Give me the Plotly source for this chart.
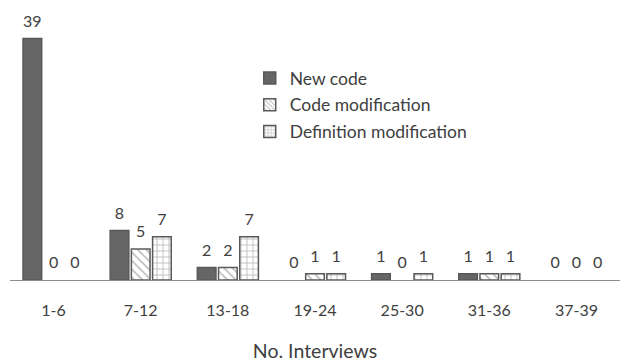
import plotly.graph_objects as go

categories = ["1-6", "7-12", "13-18", "19-24", "25-30", "31-36", "37-39"]
new_code = [39, 8, 2, 0, 1, 1, 0]
code_mod = [0, 5, 2, 1, 0, 1, 0]
def_mod = [0, 7, 7, 1, 1, 1, 0]

series = [
    ("New code", new_code, "", "#666666"),
    ("Code modification", code_mod, "\\", "white"),
    ("Definition modification", def_mod, "+", "white"),
]

FONT = "Lato, Carlito, Open Sans, sans-serif"
TXT = "#404040"
EDGE = "#595959"

fig = go.Figure()
for i, (name, vals, shape, col) in enumerate(series):
    grp = str(i)
    marker = dict(color=col,
                  line=dict(color=EDGE, width=[1.5 if v > 0 else 0 for v in vals]))
    if shape:
        marker["pattern"] = dict(shape=shape, fgcolor="#6a6a6a", bgcolor="white",
                                 size=6, solidity=0.25)
    # real bars
    fig.add_trace(go.Bar(
        name=name, x=categories, y=vals, marker=marker,
        offsetgroup=grp, alignmentgroup="a", showlegend=False,
    ))
    # value labels
    fig.add_trace(go.Scatter(
        x=categories, y=vals, mode="markers+text",
        text=[str(v) for v in vals], textposition="top center",
        textfont=dict(family=FONT, size=16, color=TXT),
        marker=dict(size=11, opacity=0),
        offsetgroup=grp, alignmentgroup="a",
        showlegend=False, hoverinfo="skip", cliponaxis=False,
    ))

# legend entries
for i, (name, vals, shape, col) in enumerate(series):
    marker = dict(color=col, line=dict(color=EDGE, width=1.5))
    if shape:
        marker["pattern"] = dict(shape=shape, fgcolor="#6a6a6a", bgcolor="white",
                                 size=4, solidity=0.3)
    fig.add_trace(go.Bar(name=name, x=[None], y=[None], marker=marker,
                         offsetgroup=str(i), alignmentgroup="a",
                         legendgroup=f"g{i}", showlegend=True))

fig.update_layout(
    width=620, height=354,
    margin=dict(l=2, r=8, t=12, b=82),
    paper_bgcolor="white", plot_bgcolor="white",
    barmode="group", bargap=0.27, bargroupgap=0.12,
    scattermode="group", scattergap=0.27,
    font=dict(family=FONT, size=16, color=TXT),
    showlegend=True,
    legend=dict(x=0.393, y=0.846, xanchor="left", yanchor="top",
                font=dict(family=FONT, size=17.5, color=TXT),
                bgcolor="rgba(0,0,0,0)", traceorder="grouped", tracegroupgap=1,
                itemwidth=30),
    xaxis=dict(showline=True, linecolor="#8c8c8c", linewidth=1, ticks="",
               ticklabelstandoff=16,
               tickfont=dict(family=FONT, size=16, color=TXT),
               automargin=False,
               title=dict(text="No. Interviews",
                          font=dict(family=FONT, size=19.5, color=TXT), standoff=33)),
    yaxis=dict(visible=False, range=[0, 42]),
)

fig.write_html("out.html")
